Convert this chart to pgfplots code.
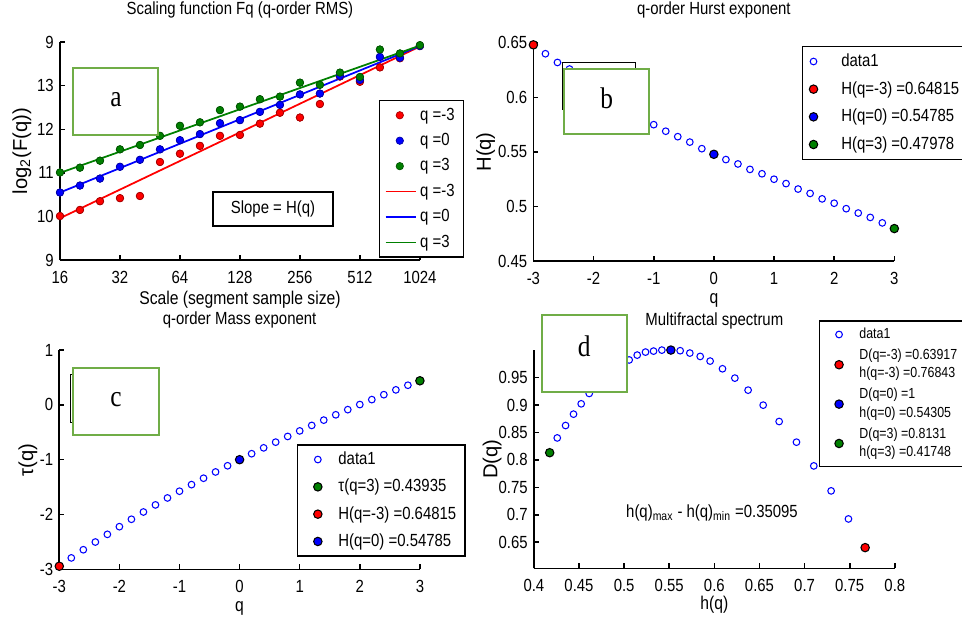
\documentclass[border=0pt]{standalone}
\usepackage{pgfplots}
\pgfplotsset{compat=1.18}
\usepackage{fontspec}
\setmainfont{Liberation Sans}[FakeStretch=0.85]
\newfontfamily\ylabfont{Liberation Sans}
\newfontfamily\letterfont{Liberation Serif}[FakeStretch=0.85]
\definecolor{mgreen}{rgb}{0,0.5,0}
\definecolor{boxgreen}{HTML}{70AD47}
\pgfplotsset{
 mystyle/.style={
  scale only axis,
  axis x line*=bottom, axis y line*=left,
  axis line style={line width=0.9pt},
  every tick/.style={black, line width=0.9pt},
  tick align=inside,
  major tick length=2.8pt,
  clip=false,
  tick label style={font=\fontsize{10}{12}\selectfont},
  xticklabel style={yshift=-2.8pt},
  /pgf/number format/assume math mode=true,
  title style={font=\fontsize{10}{12}\selectfont, anchor=center, yshift=0pt},
  xlabel style={font=\fontsize{10.5}{12}\selectfont, anchor=center},
  ylabel style={font=\fontsize{11.5}{13}\selectfont\ylabfont, anchor=center},
  legend style={font=\fontsize{10}{11}\selectfont, draw=black, line width=0.8pt, anchor=north west},
  legend cell align=left,
 },
 d1/.style={only marks, mark=o, blue, mark size=1.9pt, mark options={line width=0.6pt}},
 hl/.style={only marks, mark=*, mark size=2.4pt, mark options={draw=black, fill=#1, line width=0.6pt}},
 am/.style={only marks, mark=*, mark size=2.1pt, mark options={draw=#1!65!black, fill=#1, line width=0.4pt}},
}
\begin{document}
\begin{tikzpicture}[x=0.02cm,y=0.02cm]
\path[use as bounding box] (0,0) rectangle (962,619);
% ---------------- panel a
\begin{axis}[mystyle, at={(1.2cm,7.18cm)}, anchor=south west, width=7.2cm, height=4.36cm,
  xmin=4, xmax=10, ymin=9, ymax=14,
  xtick={4,5,6,7,8,9,10}, xticklabels={16,32,64,128,256,512,1024},
  ytick={9,10,11,12,13,14}, yticklabels={9,10,11,12,13,9},
  title={Scaling function Fq (q-order RMS)}, title style={at={(axis description cs:0.5,1.098)}},
  xlabel={Scale (segment sample size)}, xlabel style={at={(axis description cs:0.5,-0.180)}},
  ylabel={log\textsubscript{2}(F(q))}, ylabel style={at={(axis description cs:-0.106,0.5)}},
  legend style={at={(axis description cs:0.886,0.734)}, row sep=2pt},
  legend image code/.code={\path (0pt,0pt) (17pt,0pt); \draw[mark repeat=2,mark phase=2,#1] plot coordinates {(0pt,0pt) (8pt,0pt) (16pt,0pt)};},
]
\addplot[am=red] coordinates {(4,10.01) (4.333,10.15) (4.667,10.35) (5,10.42) (5.333,10.47) (5.667,11.25) (6,11.44) (6.333,11.62) (6.667,11.85) (7,11.87) (7.333,12.13) (7.667,12.38) (8,12.27) (8.333,12.58) (8.667,13.21) (9,13.09) (9.333,13.42) (9.667,13.63) (10,13.91)};
\addlegendentry{q =-3}
\addplot[am=blue] coordinates {(4,10.55) (4.333,10.71) (4.667,10.87) (5,11.14) (5.333,11.30) (5.667,11.54) (6,11.75) (6.333,11.89) (6.667,12.14) (7,12.21) (7.333,12.40) (7.667,12.56) (8,12.80) (8.333,12.82) (8.667,13.22) (9,13.13) (9.333,13.66) (9.667,13.64) (10,13.91)};
\addlegendentry{q =0}
\addplot[am=mgreen] coordinates {(4,11.01) (4.333,11.12) (4.667,11.28) (5,11.54) (5.333,11.64) (5.667,11.85) (6,12.08) (6.333,12.16) (6.667,12.44) (7,12.52) (7.333,12.69) (7.667,12.75) (8,13.07) (8.333,13.02) (8.667,13.30) (9,13.20) (9.333,13.83) (9.667,13.74) (10,13.93)};
\addlegendentry{q =3}
\addplot[red, line width=1pt, no marks, line legend] coordinates {(4,9.96) (10,13.90)};
\addlegendentry{q =-3}
\addplot[blue, line width=1pt, no marks, line legend] coordinates {(4,10.55) (10,13.91)};
\addlegendentry{q =0}
\addplot[mgreen, line width=1pt, no marks, line legend] coordinates {(4,11.00) (10,13.92)};
\addlegendentry{q =3}
% markers again on top of the lines
\addplot[am=red, forget plot] coordinates {(4,10.01) (4.333,10.15) (4.667,10.35) (5,10.42) (5.333,10.47) (5.667,11.25) (6,11.44) (6.333,11.62) (6.667,11.85) (7,11.87) (7.333,12.13) (7.667,12.38) (8,12.27) (8.333,12.58) (8.667,13.21) (9,13.09) (9.333,13.42) (9.667,13.63) (10,13.91)};
\addplot[am=blue, forget plot] coordinates {(4,10.55) (4.333,10.71) (4.667,10.87) (5,11.14) (5.333,11.30) (5.667,11.54) (6,11.75) (6.333,11.89) (6.667,12.14) (7,12.21) (7.333,12.40) (7.667,12.56) (8,12.80) (8.333,12.82) (8.667,13.22) (9,13.13) (9.333,13.66) (9.667,13.64) (10,13.91)};
\addplot[am=mgreen, forget plot] coordinates {(4,11.01) (4.333,11.12) (4.667,11.28) (5,11.54) (5.333,11.64) (5.667,11.85) (6,12.08) (6.333,12.16) (6.667,12.44) (7,12.52) (7.333,12.69) (7.667,12.75) (8,13.07) (8.333,13.02) (8.667,13.30) (9,13.20) (9.333,13.83) (9.667,13.74) (10,13.93)};
\end{axis}
% ---------------- panel b
\begin{axis}[mystyle, at={(10.67cm,7.16cm)}, anchor=south west, width=7.22cm, height=4.366cm,
  xmin=-3, xmax=3, ymin=0.45, ymax=0.65,
  xtick={-3,-2,-1,0,1,2,3}, ytick={0.45,0.5,0.55,0.6,0.65},
  yticklabel style={/pgf/number format/fixed, /pgf/number format/precision=2},
  title={q-order Hurst exponent}, title style={at={(axis description cs:0.5,1.101)}},
  xlabel={q}, xlabel style={at={(axis description cs:0.5,-0.179)}},
  ylabel={H(q)}, ylabel style={at={(axis description cs:-0.132,0.5)}},
  legend style={at={(axis description cs:0.743,0.985)}, row sep=3pt},
  legend image code/.code={\path (0pt,0pt) (16.4pt,0pt); \draw[mark repeat=2,mark phase=2,#1] plot coordinates {(0pt,0pt) (3pt,0pt) (6pt,0pt)};},
]
\addplot[d1] coordinates {(-3,0.648) (-2.8,0.640) (-2.6,0.632) (-2.4,0.626) (-2.2,0.619) (-2.0,0.611) (-1.8,0.604) (-1.6,0.596) (-1.4,0.589) (-1.2,0.582) (-1.0,0.575) (-0.8,0.569) (-0.6,0.564) (-0.4,0.559) (-0.2,0.553) (0,0.548) (0.2,0.543) (0.4,0.539) (0.6,0.534) (0.8,0.530) (1.0,0.525) (1.2,0.521) (1.4,0.516) (1.6,0.512) (1.8,0.507) (2.0,0.503) (2.2,0.498) (2.4,0.494) (2.6,0.490) (2.8,0.485) (3.0,0.480)};
\addlegendentry{data1}
\addplot[hl=red] coordinates {(-3,0.64815)};
\addlegendentry{H(q=-3) =0.64815}
\addplot[hl=blue] coordinates {(0,0.54785)};
\addlegendentry{H(q=0) =0.54785}
\addplot[hl=mgreen] coordinates {(3,0.47978)};
\addlegendentry{H(q=3) =0.47978}
\end{axis}
% ---------------- panel c
\begin{axis}[mystyle, at={(1.186cm,0.994cm)}, anchor=south west, width=7.214cm, height=4.386cm,
  xmin=-3, xmax=3, ymin=-3, ymax=1,
  xtick={-3,-2,-1,0,1,2,3}, ytick={-3,-2,-1,0,1},
  title={q-order Mass exponent}, title style={at={(axis description cs:0.5,1.091)}},
  xlabel={q}, xlabel style={at={(axis description cs:0.5,-0.177)}},
  ylabel={τ(q)}, ylabel style={at={(axis description cs:-0.087,0.5)}},
  legend style={at={(axis description cs:0.659,0.571)}, row sep=2.8pt},
  legend image code/.code={\path (0pt,0pt) (17.4pt,0pt); \draw[mark repeat=2,mark phase=2,#1] plot coordinates {(0pt,0pt) (8.1pt,0pt) (16pt,0pt)};},
]
\addplot[d1] coordinates {(-3,-2.944) (-2.8,-2.792) (-2.6,-2.643) (-2.4,-2.502) (-2.2,-2.362) (-2.0,-2.222) (-1.8,-2.087) (-1.6,-1.954) (-1.4,-1.825) (-1.2,-1.698) (-1.0,-1.575) (-0.8,-1.455) (-0.6,-1.338) (-0.4,-1.224) (-0.2,-1.111) (0,-1) (0.2,-0.891) (0.4,-0.784) (0.6,-0.680) (0.8,-0.576) (1.0,-0.475) (1.2,-0.375) (1.4,-0.278) (1.6,-0.181) (1.8,-0.087) (2.0,0.006) (2.2,0.096) (2.4,0.186) (2.6,0.274) (2.8,0.358) (3.0,0.439)};
\addlegendentry{data1}
\addplot[hl=mgreen] coordinates {(3,0.43935)};
\addlegendentry{τ(q=3) =0.43935}
\addplot[hl=red] coordinates {(-3,-2.944)};
\addlegendentry{H(q=-3) =0.64815}
\addplot[hl=blue] coordinates {(0,-1)};
\addlegendentry{H(q=0) =0.54785}
\end{axis}
% ---------------- panel d
\begin{axis}[mystyle, at={(10.68cm,1.014cm)}, anchor=south west, width=7.22cm, height=4.366cm,
  xmin=0.4, xmax=0.8, ymin=0.6026, ymax=1,
  xtick={0.4,0.45,0.5,0.55,0.6,0.65,0.7,0.75,0.8}, ytick={0.65,0.7,0.75,0.8,0.85,0.9,0.95},
  xticklabel style={/pgf/number format/fixed, /pgf/number format/precision=2},
  yticklabel style={/pgf/number format/fixed, /pgf/number format/precision=2},
  title={Multifractal spectrum}, title style={at={(axis description cs:0.5,1.084)}},
  xlabel={h(q)}, xlabel style={at={(axis description cs:0.5,-0.168)}},
  ylabel={D(q)}, ylabel style={at={(axis description cs:-0.116,0.5)}},
  legend style={at={(axis description cs:0.789,1.137)}, cells={align=left}, row sep=0.5pt, font=\fontsize{8.3}{10.4}\selectfont},
  legend image code/.code={\path (0pt,0pt) (17pt,0pt); \draw[mark repeat=2,mark phase=2,#1] plot coordinates {(0pt,0pt) (7.8pt,0pt) (16pt,0pt)};},
]
\addplot[d1] coordinates {(0.4175,0.8131) (0.4259,0.840) (0.4351,0.8626) (0.4439,0.8833) (0.4524,0.9021) (0.4613,0.921) (0.4701,0.935) (0.4790,0.950) (0.4878,0.962) (0.4967,0.973) (0.5056,0.982) (0.5145,0.9908) (0.5237,0.9963) (0.5326,0.9981) (0.5418,0.9999) (0.5518,1.0) (0.5621,0.9988) (0.5728,0.9945) (0.5843,0.9884) (0.5953,0.9799) (0.6090,0.9659) (0.6227,0.9489) (0.6374,0.9270) (0.6541,0.8997) (0.6718,0.8699) (0.6910,0.8323) (0.7102,0.7891) (0.7294,0.7436) (0.7486,0.6925) (0.7671,0.6403)};
\addlegendentry{data1}
\addplot[hl=red] coordinates {(0.7671,0.6403)};
\addlegendentry{D(q=-3) =0.63917\\h(q=-3) =0.76843}
\addplot[hl=blue] coordinates {(0.5518,1.0)};
\addlegendentry{D(q=0) =1\\h(q=0) =0.54305}
\addplot[hl=mgreen] coordinates {(0.4175,0.8131)};
\addlegendentry{D(q=3) =0.8131\\h(q=3) =0.41748}
\end{axis}
% ---------------- annotations
\draw[line width=0.6pt] (213,427) rectangle (333,393);
\node[font=\fontsize{10}{12}\selectfont] at (273,410) {Slope = H(q)};
\node[font=\fontsize{10}{12}\selectfont] at (712,106) {h(q)\textsubscript{max} - h(q)\textsubscript{min} =0.35095};
% hidden boxes
\draw[line width=0.5pt] (83,552) rectangle (158,519);
\draw[line width=0.5pt] (562,556.3) rectangle (635.7,510);
\draw[line width=0.5pt] (70.7,245) rectangle (100,197);
% green boxes
\draw[boxgreen, line width=1.1pt, fill=white] (73,551) rectangle (158,484);
\node[font=\fontsize{17}{20}\selectfont\letterfont] at (116,519) {a};
\draw[boxgreen, line width=1.1pt, fill=white] (564.3,550) rectangle (649.3,484.7);
\node[font=\fontsize{17}{20}\selectfont\letterfont] at (606.7,520.7) {b};
\draw[boxgreen, line width=1.1pt, fill=white] (73,251) rectangle (159,184);
\node[font=\fontsize{17}{20}\selectfont\letterfont] at (116,219) {c};
\draw[boxgreen, line width=1.1pt, fill=white] (541.7,304) rectangle (626.7,227.3);
\node[font=\fontsize{17}{20}\selectfont\letterfont] at (584.3,272.3) {d};
\end{tikzpicture}
\end{document}
